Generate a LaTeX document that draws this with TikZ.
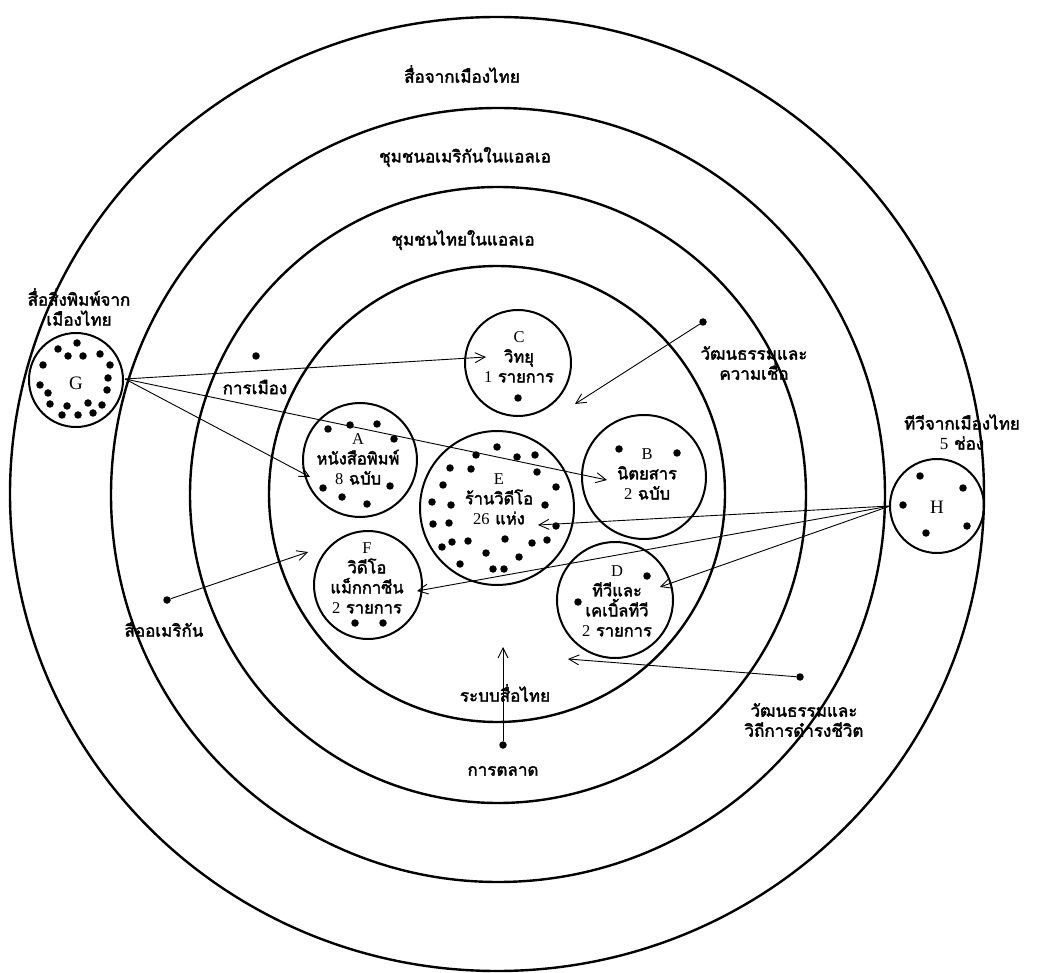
\documentclass[tikz,border=0pt]{standalone}
\usepackage{fontspec}
\setmainfont{Liberation Serif}
\newfontfamily\thai[Script=Thai, AutoFakeBold=2.2]{Loma}
\newcommand{\lat}[1]{{\rmfamily\mdseries #1}}
\usetikzlibrary{arrows.meta}
\tikzset{
  ring/.style={line width=2.4pt},
  sub/.style={circle, draw, line width=2pt, inner sep=0pt},
  dot/.style={circle, fill, inner sep=0pt, minimum size=7.5pt},
  arr/.style={-{Straight Barb[length=10pt,width=10pt]}, line width=0.9pt},
  lbl/.style={font=\thai\bfseries\fontsize{17}{20}\selectfont, inner sep=1pt, align=center},
  inlbl/.style={font=\thai\bfseries\fontsize{16.5}{20}\selectfont, inner sep=1pt, align=center},
  letter/.style={font=\rmfamily\fontsize{19}{20}\selectfont, inner sep=1pt},
}
\begin{document}
\begin{tikzpicture}[x=1pt,y=-1pt]
\useasboundingbox (0,0) rectangle (1042,973);
\fill[white] (0,0) rectangle (1042,973);
% rings
\draw[ring] (497,494) ellipse [x radius=487pt, y radius=477pt];
\draw[ring] (498,495) ellipse [x radius=387pt, y radius=387pt];
\draw[ring] (498,495) ellipse [x radius=308pt, y radius=308pt];
\draw[ring] (497,494) ellipse [x radius=228pt, y radius=228pt];
% ring labels
\node[lbl] (Lout) at (462,74) {สื่อจากเมืองไทย};
\node[lbl] (Lsec) at (465,157) {ชุมชนอเมริกันในแอลเอ};
\node[lbl] (Lthi) at (463,240) {ชุมชนไทยในแอลเอ};
\node[lbl] (Linn) at (505,693) {ระบบสื่อไทย};
% sub circles
\node[sub, minimum size=106pt] (C) at (518,363) {};
\node[inlbl] (Ct) at (519,357) {\lat{C}\\วิทยุ\\\lat{1} รายการ};
\node[dot] (Cd1) at (518,398) {};

\node[sub, minimum size=114pt] (A) at (360,460) {};
\node[inlbl] (At) at (358,459) {\lat{A}\\หนังสือพิมพ์\\\lat{8} ฉบับ};
\foreach \p [count=\i] in {(328,429),(350,425),(377,424),(394,439),(323,488),(342,497),(367,504),(390,486)}
  \node[dot] (Ad\i) at \p {};

\node[sub, minimum size=154pt] (E) at (497,508) {};
\node[inlbl] (Et) at (499,499) {\lat{E}\\ร้านวิดีโอ\\\lat{26} แห่ง};
\foreach \p [count=\i] in {(497,447),(476,455),(517,457),(535,455),(450,468),(471,469),(537,472),(443,485),(556,487),(432,502),(451,505),(545,505),(433,524),(449,523),(442,547),(452,542),(468,541),(505,539),(532,543),(547,540),(486,553),(519,557),(460,564),(493,569),(504,569),(556,526)}
  \node[dot] (Ed\i) at \p {};

\node[sub, minimum size=124pt] (B) at (644,477) {};
\node[inlbl] (Bt) at (647,474) {\lat{B}\\นิตยสาร\\\lat{2} ฉบับ};
\node[dot] (Bd1) at (619,449) {};
\node[dot] (Bd2) at (677,453) {};

\node[sub, minimum size=116pt] (D) at (615,600) {};
\node[inlbl] (Dt) at (617,601) {\lat{D}\\ทีวีและ\\เคเบิ้ลทีวี\\\lat{2} รายการ};
\node[dot] (Dd1) at (647,576) {};
\node[dot] (Dd2) at (578,602) {};

\node[sub, minimum size=108pt] (F) at (368,585) {};
\node[inlbl] (Ft) at (367,578) {\lat{F}\\วิดีโอ\\แม็กกาซีน\\\lat{2} รายการ};
\node[dot] (Fd1) at (355,623) {};
\node[dot] (Fd2) at (383,623) {};

% G
\node[sub, minimum size=94pt] (G) at (76,380) {};
\node[letter] (Gt) at (76,383) {G};
\foreach \p [count=\i] in {(77,343),(58,349),(68,356),(83,356),(100,354),(43,365),(110,365),(108,378),(40,385),(107,390),(48,393),(50,404),(67,406),(88,403),(102,405),(62,415),(78,415),(93,413)}
  \node[dot] (Gd\i) at \p {};
\node[lbl] (GL) at (79,307) {สื่อสิ่งพิมพ์จาก\\เมืองไทย};

% H
\node[sub, minimum size=94pt] (H) at (937,506) {};
\node[letter] (Ht) at (937,507) {H};
\foreach \p [count=\i] in {(920,476),(963,488),(903,505),(967,526),(926,533)}
  \node[dot] (Hd\i) at \p {};
\node[lbl] (HL) at (962,432) {ทีวีจากเมืองไทย\\\lat{5} ช่อง};

% free dots and labels
\node[dot] (pol) at (256,356) {};
\node[lbl] (polL) at (255,387) {การเมือง};
\node[dot] (cul1) at (703,322) {};
\node[lbl] (cul1L) at (754,363) {วัฒนธรรมและ\\ความเชื่อ};
\node[dot] (ame) at (167,600) {};
\node[lbl] (ameL) at (164,628) {สื่ออเมริกัน};
\node[dot] (mkt) at (503,745) {};
\node[lbl] (mktL) at (503,771) {การตลาด};
\node[dot] (cul2) at (800,677) {};
\node[lbl] (cul2L) at (804,720) {วัฒนธรรมและ\\วิถีการดำรงชีวิต};

% arrow targets
\coordinate (tC) at (486,357);
\coordinate (tB) at (607,480);
\coordinate (tA) at (310,477);
\coordinate (tE) at (538,525);
\coordinate (tF) at (417,591);
\coordinate (tD) at (660,587);
\coordinate (tcul1) at (575,404);
\coordinate (tame) at (308,552);
\coordinate (tmkt) at (503,647);
\coordinate (tcul2) at (568,659);
\coordinate (Gs) at (125,379);
\coordinate (Hs) at (890,506);

% connectors
\draw[arr] (Gs) -- (tC);
\draw[arr] (Gs) -- (tB);
\draw[arr] (Gs) -- (tA);
\draw[arr] (Hs) -- (tE);
\draw[arr] (Hs) -- (tF);
\draw[arr] (Hs) -- (tD);
\draw[arr] (cul1) -- (tcul1);
\draw[arr] (ame) -- (tame);
\draw[arr] (mkt) -- (tmkt);
\draw[arr] (cul2) -- (tcul2);
\end{tikzpicture}
\end{document}
